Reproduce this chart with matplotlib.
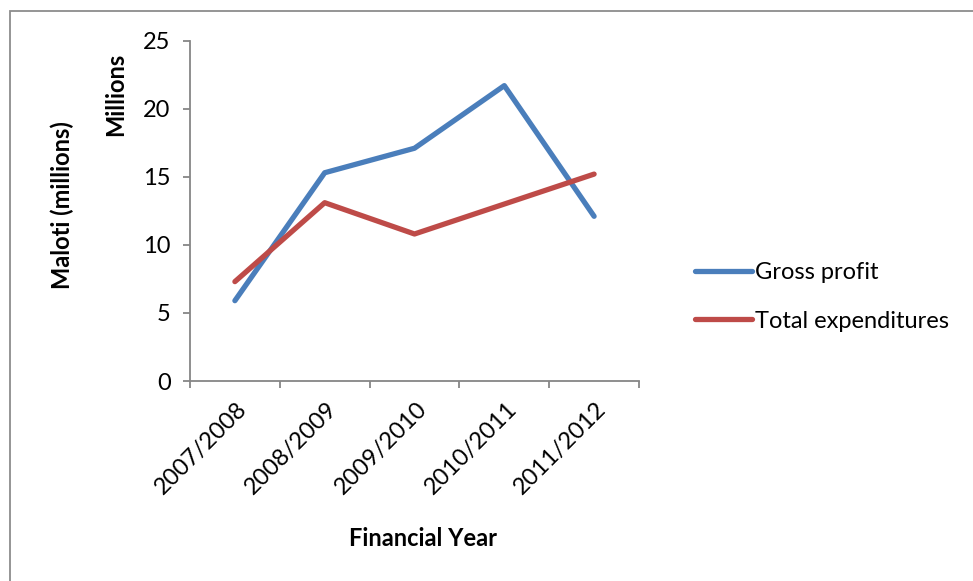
import matplotlib
matplotlib.use("Agg")
import matplotlib.pyplot as plt
from matplotlib.patches import Rectangle
import matplotlib.transforms as mtransforms
import numpy as np

categories = ["2007/2008", "2008/2009", "2009/2010", "2010/2011", "2011/2012"]
gross_profit = [5.9, 15.3, 17.1, 21.7, 12.1]
total_expenditures = [7.3, 13.1, 10.8, 13.0, 15.2]

plt.rcParams['font.family'] = ['Lato', 'DejaVu Sans']
FS = 17

W, H = 973, 581
fig = plt.figure(figsize=(W / 100, H / 100), dpi=100)
fig.patch.set_facecolor('white')

# outer chart border (left & top visible)
fig.add_artist(Rectangle((10 / W, -0.05), 1.2, 1 - 11 / H + 0.05, transform=fig.transFigure,
                         fill=False, edgecolor='#8c8c8c', linewidth=1.3))

ax = fig.add_axes([190 / W, 1 - 381 / H, (639 - 190) / W, (381 - 40.7) / H])
x = np.arange(len(categories))
ax.plot(x, gross_profit, color='#4A7EBB', lw=3.8, solid_capstyle='round', label='Gross profit')
ax.plot(x, total_expenditures, color='#BE4B48', lw=3.8, solid_capstyle='round', label='Total expenditures')

ax.set_xlim(-0.5, len(categories) - 0.5)
ax.set_ylim(0, 25)
ax.set_yticks(np.arange(0, 26, 5))
ax.set_xticks(np.arange(-0.5, len(categories), 1.0))
ax.set_xticklabels([])
ax.set_xticks(x, minor=True)
ax.set_xticklabels(categories, minor=True, rotation=45, ha='right', va='center',
                   rotation_mode='anchor', fontsize=FS)
ax.tick_params(axis='x', which='minor', length=0, pad=18)
ax.tick_params(axis='x', which='major', length=5, width=1.3, color='#868686', direction='out')
ax.tick_params(axis='y', length=5, width=1.3, color='#868686', direction='out', labelsize=FS, pad=9)

for s in ['top', 'right']:
    ax.spines[s].set_visible(False)
for s in ['left', 'bottom']:
    ax.spines[s].set_color('#868686')
    ax.spines[s].set_linewidth(1.3)

# offset the rotated labels slightly to the right of the category centre
off = mtransforms.ScaledTranslation(9 / 100, 0, fig.dpi_scale_trans)
for t in ax.get_xticklabels(minor=True):
    t.set_transform(t.get_transform() + off)

fig.text(62 / W, 1 - 205 / H, "Maloti (millions)", rotation=90, ha='center', va='center',
         fontsize=FS, fontweight='bold')
fig.text(116 / W, 1 - 94 / H, "Millions", rotation=90, ha='center', va='center',
         fontsize=FS, fontweight='bold')
fig.text(423 / W, 1 - 538 / H, "Financial Year", ha='center', va='center',
         fontsize=FS, fontweight='bold')

leg = ax.legend(loc='center left', bbox_to_anchor=(695 / W, 1 - 297 / H), bbox_transform=fig.transFigure,
                frameon=False, fontsize=FS, handlelength=2.4, handletextpad=0.15,
                labelspacing=1.15, borderpad=0, borderaxespad=0)

fig.savefig("out.png", dpi=100, facecolor='white')
